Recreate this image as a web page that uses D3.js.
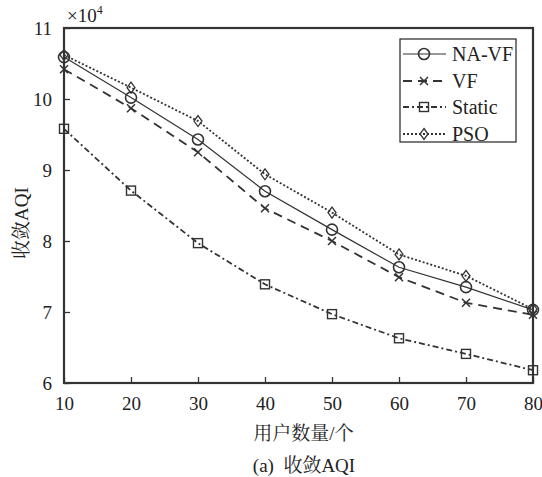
<!DOCTYPE html>
<html>
<head>
<meta charset="utf-8">
<script src="https://cdn.jsdelivr.net/npm/d3@7"></script>
<style>
  html, body { margin: 0; padding: 0; background: #fff; }
  svg { display: block; }
  text { font-family: "Liberation Serif", "Times New Roman", "Noto Sans CJK SC", serif; fill: #222; }
  .cjk { font-family: "Liberation Serif", "Noto Serif CJK SC", "Noto Sans CJK SC", serif; }
</style>
</head>
<body>
<script>
// Number of users on the x axis
const users = [10, 20, 30, 40, 50, 60, 70, 80];
// Converged AQI per method, in units of 10^4
const naVF        = [10.59, 10.02, 9.43, 8.70, 8.16, 7.63, 7.35, 7.03];
const vf          = [10.42, 9.87, 9.25, 8.46, 8.00, 7.49, 7.13, 6.96];
const staticVals  = [9.58, 8.71, 7.97, 7.39, 6.97, 6.63, 6.41, 6.18];
const pso         = [10.62, 10.16, 9.69, 8.94, 8.40, 7.81, 7.51, 7.04];
const seriesNames = ["NA-VF", "VF", "Static", "PSO"];
const xTicks = [10, 20, 30, 40, 50, 60, 70, 80];
const yTicks = [6, 7, 8, 9, 10, 11];

const W = 542, H = 477;
const plot = { left: 64, right: 533, top: 28, bottom: 383 };
const ink = "#333";

const svg = d3.select("body").append("svg").attr("width", W).attr("height", H);

const x = d3.scaleLinear().domain([10, 80]).range([plot.left, plot.right]);
const y = d3.scaleLinear().domain([6, 11]).range([plot.bottom, plot.top]);

const styles = {
  "NA-VF":  { dash: null,        width: 1.2, marker: "circle" },
  "VF":     { dash: "9,6",       width: 1.8, marker: "cross" },
  "Static": { dash: "6,3,2,3",   width: 1.8, marker: "square" },
  "PSO":    { dash: "2,2",       width: 1.8, marker: "diamond" }
};
const values = { "NA-VF": naVF, "VF": vf, "Static": staticVals, "PSO": pso };

function drawMarker(g, kind, cx, cy) {
  if (kind === "circle") {
    g.append("circle").attr("cx", cx).attr("cy", cy).attr("r", 5.5)
      .attr("fill", "none").attr("stroke", ink).attr("stroke-width", 1.6);
  } else if (kind === "cross") {
    const s = 4;
    g.append("path").attr("d", `M${cx - s},${cy - s}L${cx + s},${cy + s}M${cx - s},${cy + s}L${cx + s},${cy - s}`)
      .attr("stroke", ink).attr("stroke-width", 1.5).attr("fill", "none");
  } else if (kind === "square") {
    g.append("rect").attr("x", cx - 4.5).attr("y", cy - 4.5).attr("width", 9).attr("height", 9)
      .attr("fill", "none").attr("stroke", ink).attr("stroke-width", 1.4);
  } else if (kind === "diamond") {
    g.append("path").attr("d", `M${cx},${cy - 5.5}L${cx + 4},${cy}L${cx},${cy + 5.5}L${cx - 4},${cy}Z`)
      .attr("fill", "none").attr("stroke", ink).attr("stroke-width", 1.3);
  }
}

// Series lines and markers
const line = d3.line().x(d => x(d[0])).y(d => y(d[1]));
seriesNames.forEach(name => {
  const st = styles[name];
  const pts = users.map((u, i) => [u, values[name][i]]);
  const g = svg.append("g");
  g.append("path").attr("d", line(pts)).attr("fill", "none")
    .attr("stroke", ink).attr("stroke-width", st.width)
    .attr("stroke-dasharray", st.dash);
  pts.forEach(p => drawMarker(g, st.marker, x(p[0]), y(p[1])));
});

// Axes with inward ticks
const xAxis = svg.append("g").attr("transform", `translate(0,${plot.bottom})`)
  .call(d3.axisBottom(x).tickValues(xTicks).tickSize(-6).tickPadding(14).tickFormat(d3.format("d")));
const yAxis = svg.append("g").attr("transform", `translate(${plot.left},0)`)
  .call(d3.axisLeft(y).tickValues(yTicks).tickSize(-6).tickPadding(12).tickFormat(d3.format("d")));
[xAxis, yAxis].forEach(a => {
  a.select(".domain").remove();
  a.selectAll(".tick line").attr("stroke", ink).attr("stroke-width", 1.3);
  a.selectAll(".tick text").attr("font-size", 19).attr("fill", "#222")
    .style("font-family", "'Liberation Serif', serif");
});
xAxis.selectAll(".tick text").attr("dy", "0.71em");

// Frame
svg.append("rect").attr("x", plot.left).attr("y", plot.top)
  .attr("width", plot.right - plot.left).attr("height", plot.bottom - plot.top)
  .attr("fill", "none").attr("stroke", ink).attr("stroke-width", 2.2);

// Exponent label
const ex = svg.append("text").attr("x", 67).attr("y", 22).attr("font-size", 19);
ex.append("tspan").text("×10");
ex.append("tspan").attr("font-size", 12).attr("dy", -8).text("4");

// Axis titles and caption
svg.append("text").attr("class", "cjk").attr("x", (plot.left + plot.right) / 2 + 5).attr("y", 440)
  .attr("text-anchor", "middle").attr("font-size", 19).text("用户数量/个");
svg.append("text").attr("class", "cjk")
  .attr("transform", "translate(28,223) rotate(-90)")
  .attr("text-anchor", "middle").attr("font-size", 19).text("收敛AQI");
svg.append("text").attr("class", "cjk").attr("x", 304).attr("y", 472)
  .attr("text-anchor", "middle").attr("font-size", 19)
  .attr("xml:space", "preserve").text("(a)  收敛AQI");

// Legend
const lg = svg.append("g");
lg.append("rect").attr("x", 400).attr("y", 39).attr("width", 116).attr("height", 103)
  .attr("fill", "#fff").attr("stroke", ink).attr("stroke-width", 1.3);
const rowY = [54, 81, 107, 134];
seriesNames.forEach((name, i) => {
  const st = styles[name];
  const yy = rowY[i];
  lg.append("line").attr("x1", 403).attr("x2", 446).attr("y1", yy).attr("y2", yy)
    .attr("stroke", ink).attr("stroke-width", st.width).attr("stroke-dasharray", st.dash);
  drawMarker(lg, st.marker, 424, yy);
  lg.append("text").attr("x", 452).attr("y", yy + 6.5).attr("font-size", 20).text(name);
});
</script>
</body>
</html>
